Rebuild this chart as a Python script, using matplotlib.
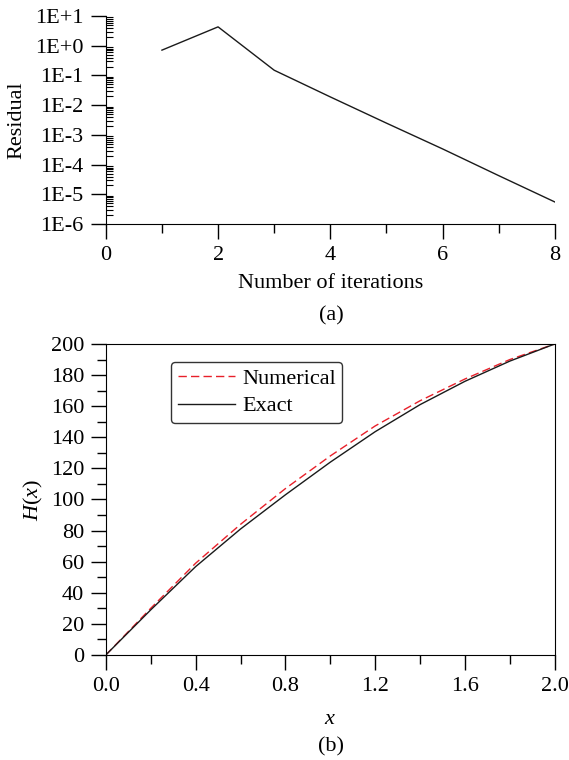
import matplotlib
matplotlib.use("Agg")
import matplotlib.pyplot as plt
from matplotlib.ticker import FixedLocator, FuncFormatter, LogLocator, MultipleLocator, NullFormatter

plt.rcParams['font.family'] = ['Liberation Serif', 'DejaVu Serif']
plt.rcParams['mathtext.fontset'] = 'custom'
plt.rcParams['mathtext.rm'] = 'Liberation Serif'
plt.rcParams['mathtext.it'] = 'Liberation Serif:italic'
plt.rcParams['font.size'] = 16

# (a) residual per iteration
iterations = [1, 2, 3, 4, 5, 6, 7, 8]
residual = [0.71, 4.3, 0.15, 0.019, 0.0025, 3.4e-4, 4.3e-5, 5.6e-6]
residual_ticks = [1e1, 1e0, 1e-1, 1e-2, 1e-3, 1e-4, 1e-5, 1e-6]
residual_labels = ['1E+1', '1E+0', '1E-1', '1E-2', '1E-3', '1E-4', '1E-5', '1E-6']

# (b) head along x
x_vals = [0.0, 0.2, 0.4, 0.6, 0.8, 1.0, 1.2, 1.4, 1.6, 1.8, 2.0]
h_exact = [0, 29, 56.8, 81, 103, 124, 143.6, 161, 176, 189, 200]
h_numerical = [0, 30, 59, 84, 107, 128, 147.3, 163.5, 177.5, 190, 200]

fig = plt.figure(figsize=(5.69, 7.6), dpi=100)

# ---- top panel
ax1 = fig.add_axes([0.186, 0.705, 0.789, 0.274])
ax1.plot(iterations, residual, color='#1a1a1a', lw=1.0)
ax1.set_yscale('log')
ax1.set_xlim(0, 8)
ax1.set_ylim(1e-6, 1e1)
ax1.yaxis.set_major_locator(FixedLocator(residual_ticks))
ax1.yaxis.set_major_formatter(FuncFormatter(lambda v, p: residual_labels[residual_ticks.index(min(residual_ticks, key=lambda t: abs(t - v)))]))
ax1.yaxis.set_minor_locator(LogLocator(base=10, subs=range(2, 10), numticks=20))
ax1.yaxis.set_minor_formatter(NullFormatter())
ax1.xaxis.set_major_locator(MultipleLocator(2))
ax1.xaxis.set_minor_locator(MultipleLocator(1))
ax1.spines['top'].set_visible(False)
ax1.spines['right'].set_visible(False)
ax1.tick_params(which='major', direction='out', length=11, width=1)
ax1.tick_params(axis='x', which='major', pad=5)
ax1.tick_params(axis='y', which='major', pad=5)
ax1.tick_params(axis='y', which='minor', direction='in', length=5, width=0.8)
ax1.tick_params(axis='x', which='minor', direction='out', length=6.5, width=1)
ax1.set_xlabel('Number of iterations', labelpad=6)
ax1.set_ylabel('Residual', labelpad=6)
fig.text(0.582, 1 - 316 / 760, '(a)', ha='center', va='center', fontsize=16)

# ---- bottom panel
ax2 = fig.add_axes([0.186, 0.1382, 0.789, 0.4092])
ax2.plot(x_vals, h_numerical, color='#e8202a', lw=1.0, ls=(0, (6, 3)), label='Numerical')
ax2.plot(x_vals, h_exact, color='#1a1a1a', lw=1.0, label='Exact')
ax2.set_xlim(0, 2.0)
ax2.set_ylim(0, 200)
ax2.xaxis.set_major_locator(MultipleLocator(0.4))
ax2.xaxis.set_minor_locator(MultipleLocator(0.2))
ax2.yaxis.set_major_locator(MultipleLocator(20))
ax2.yaxis.set_minor_locator(MultipleLocator(10))
ax2.xaxis.set_major_formatter(FuncFormatter(lambda v, p: f'{v:.1f}'))
ax2.tick_params(which='major', direction='out', length=11, width=1)
ax2.tick_params(axis='x', which='major', pad=5)
ax2.tick_params(axis='y', which='major', pad=4.5)
ax2.tick_params(which='minor', direction='out', length=6.5, width=1)
ax2.set_xlabel('$x$', labelpad=10)
ax2.set_ylabel(r'$H\mathrm{(}x\mathrm{)}$', labelpad=4)
leg = ax2.legend(loc='upper left', bbox_to_anchor=(0.145, 0.942), borderaxespad=0,
                 frameon=True, fancybox=True, edgecolor='black', handlelength=2.6,
                 handletextpad=0.3, borderpad=0.3, labelspacing=0.3, fontsize=16)
leg.get_frame().set_linewidth(1.0)
fig.text(0.582, 1 - 747 / 760, '(b)', ha='center', va='center', fontsize=16)

fig.savefig('out.png', dpi=100)
